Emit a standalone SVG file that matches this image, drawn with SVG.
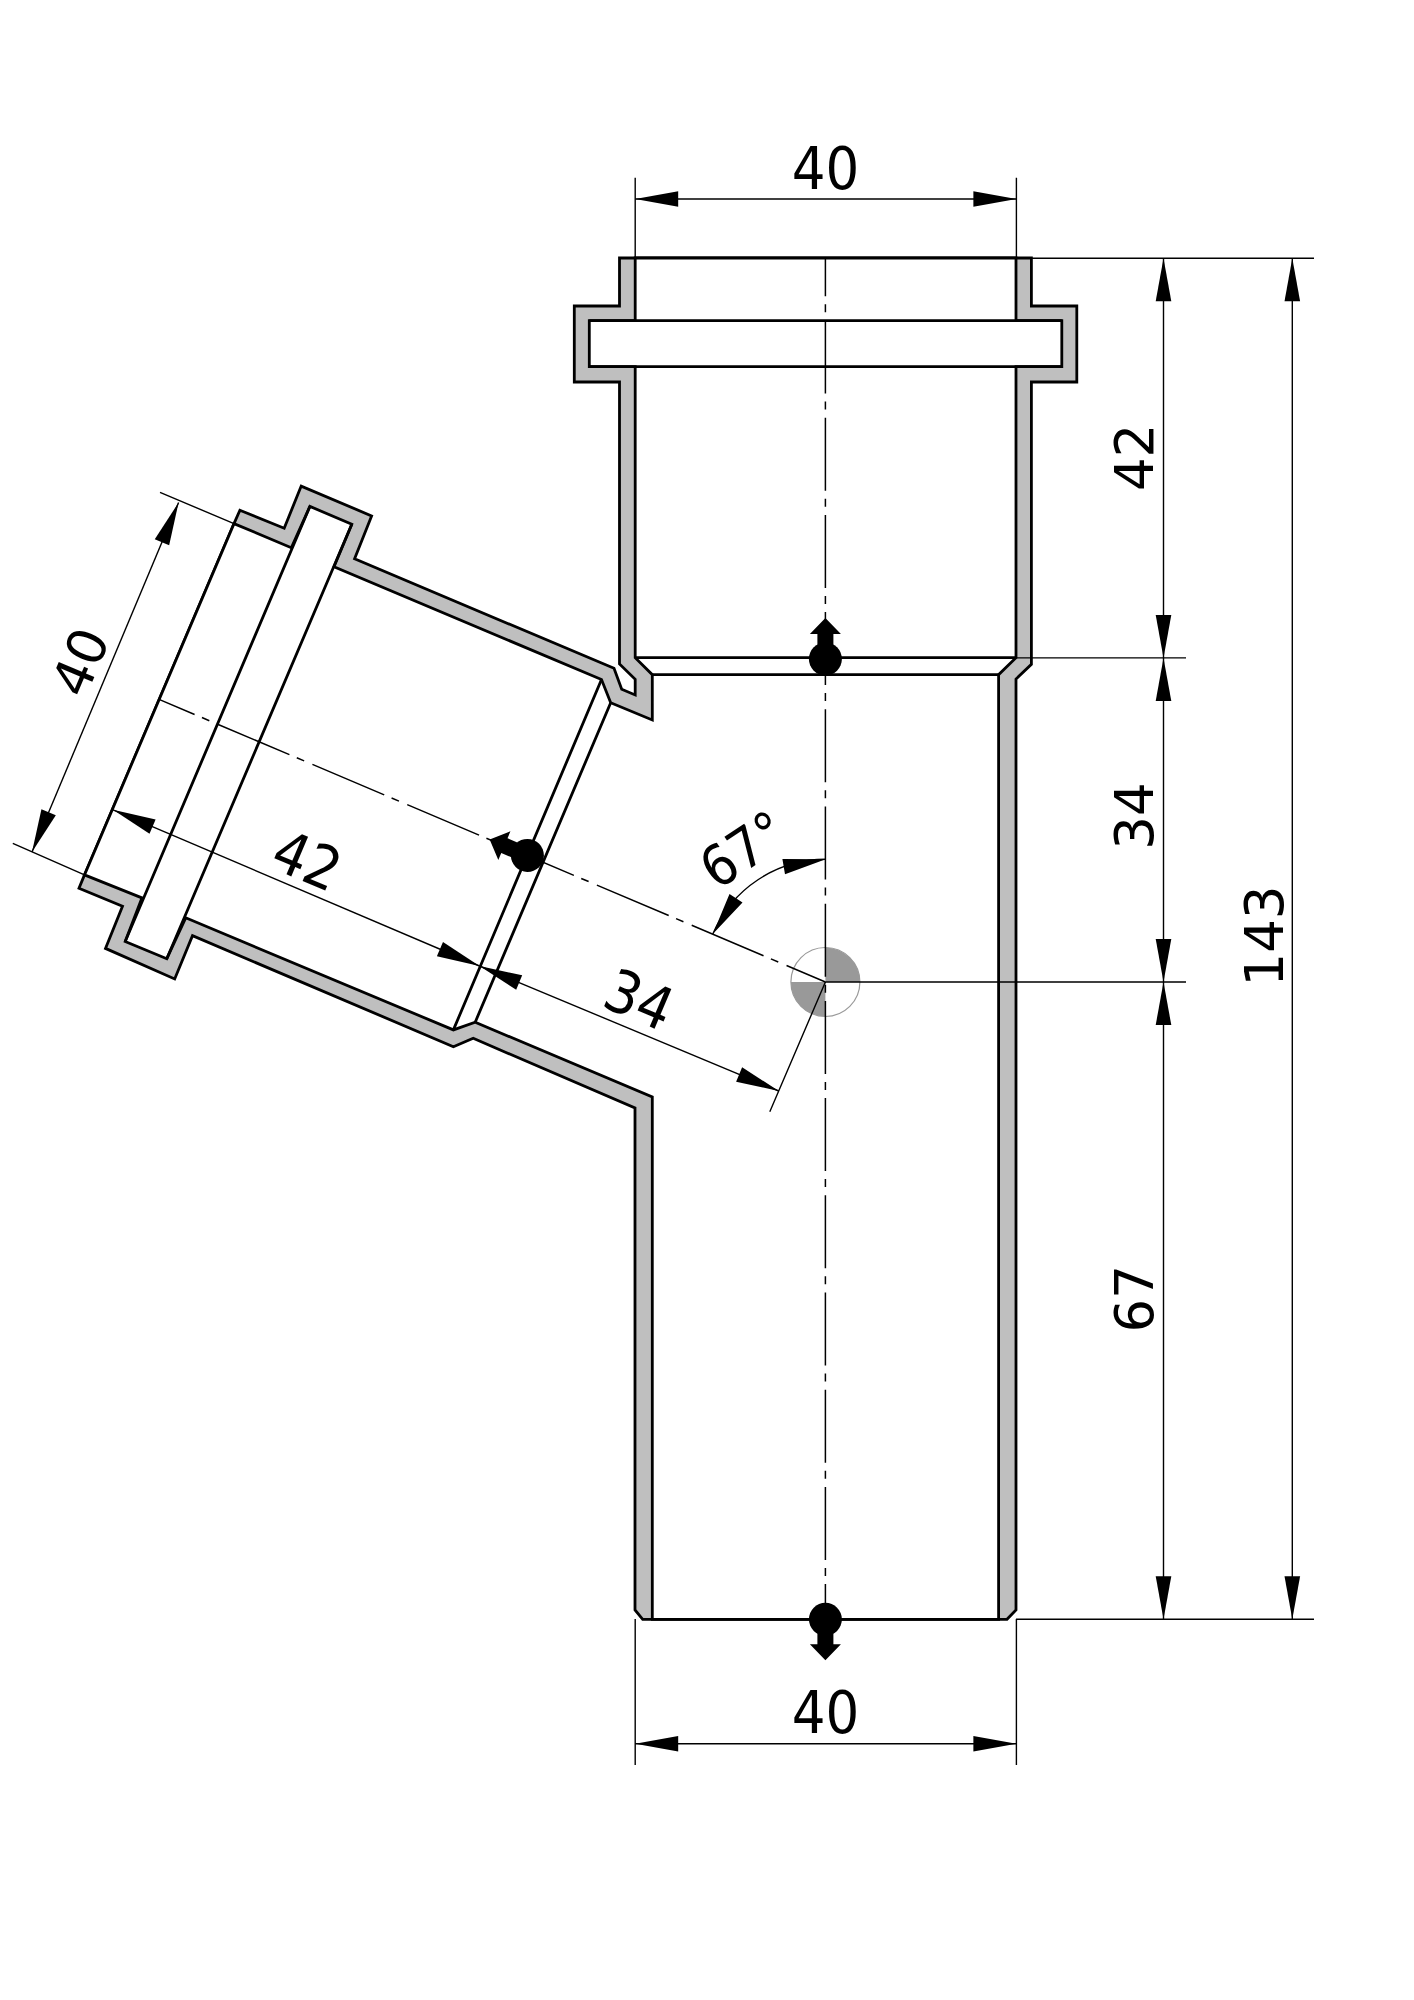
<svg xmlns="http://www.w3.org/2000/svg" width="1414" height="2000" viewBox="0 0 1414 2000">
<style>
.o{stroke:#000;stroke-width:2.8;stroke-linejoin:miter;stroke-miterlimit:8}
.e{fill:none;stroke:#000;stroke-width:2.8}
.d{fill:none;stroke:#000;stroke-width:1.4}
.c{fill:none;stroke:#000;stroke-width:1.5}
.a{fill:#000;stroke:none}
text{font-family:"DejaVu Sans",sans-serif;font-size:53px;fill:#000;text-anchor:middle}
text.h{font-family:"DejaVu Sans Condensed","DejaVu Sans",sans-serif;font-size:59px}
text.m{font-family:"DejaVu Sans Condensed","DejaVu Sans",sans-serif;font-size:56px}
</style>
<defs>
<marker id="ah" markerUnits="userSpaceOnUse" markerWidth="46" markerHeight="18" refX="44" refY="9" orient="auto-start-reverse" viewBox="0 0 46 18"><path d="M44,9 L1,1.2 L1,16.8 Z" fill="#000"/></marker>
<g id="flow"><circle cx="0" cy="0" r="16.5" fill="#000"/><path d="M-8,-8 V-25 H-15.5 L0,-41 L15.5,-25 H8 V-8 Z" fill="#000"/></g>
</defs>
<rect width="1414" height="2000" fill="#fff"/>
<g id="fitting">
<path class="o" fill="#bfbfbf" d="M619.5,258 V306 H574.3 V382 H619.5 V664 L635.2,679.3 V695 L621.7,689.3 L614,668.3 L354.6,558.8 L371.6,515.9 L301.2,486.1 L284.2,528.2 L239.9,510.2 L234,523.6 L84.5,874.9 L79,888.3 L122.5,906.3 L105.5,948.4 L174.7,979 L192.5,935.7 L453.4,1046.7 L473.2,1038.3 L635,1108 V1610 L642.7,1619.3 H1007 L1016,1610 V679 L1031.4,664.3 V382 H1076.8 V306 H1031.4 V258 Z"/>
<path class="o" fill="#fff" d="M635.2,258 H1016 V320.7 H1061.8 V366.7 H1016 V657.7 L998.6,674.7 V1619.3 H652.3 V1097 L475.2,1022.2 L453.4,1029.9 L185.7,917.8 L166.8,958.7 L125.2,941.5 L141.9,897.9 L84.5,874.9 L234,523.6 L291.3,547.7 L309.9,506.4 L351.8,524.3 L334,566.8 L601.5,679.5 L610.7,702.7 L652.3,720 V674.7 L635.2,657.7 V366.7 H589.3 V320.7 H635.2 Z"/>
<path class="e" d="M589.3,320.7 H1061.8 M589.3,366.7 H1061.8 M635.2,657.7 H1016 M652.3,674.7 H998.6 M309.9,506.4 L125.2,941.5 M351.8,524.3 L166.8,958.7 M601.5,679.5 L453.4,1029.9 M610.7,702.7 L475.2,1022.2"/>
</g>
<g id="center-symbol">
<circle cx="825.4" cy="982" r="34.5" fill="#fff" stroke="#999" stroke-width="1.2"/>
<path d="M825.4,982 V947.5 A34.5,34.5 0 0 1 859.9,982 Z M825.4,982 V1016.5 A34.5,34.5 0 0 1 790.9,982 Z" fill="#999"/>
</g>
<g id="centerlines">
<line class="c" x1="825.4" y1="258.3" x2="825.4" y2="1619" stroke-dasharray="73 8 8 8.2" stroke-dashoffset="35"/>
<line class="c" x1="159.6" y1="699.6" x2="825.4" y2="982" stroke-dasharray="78 8 8 9" stroke-dashoffset="40"/>
</g>
<g id="flow-markers">
<use href="#flow" transform="translate(825.4,659)"/>
<use href="#flow" transform="translate(825.4,1619.3) rotate(180)"/>
<use href="#flow" transform="translate(527.4,855.4) rotate(-67)"/>
</g>
<g id="connectors">
<path class="d" d="M635.2,177.7 V258 M1016.4,177.7 V258 M635.2,1619 V1765 M1016.4,1619 V1765 M1031,258.3 H1314 M1016,657.9 H1186 M825.4,982 H1186 M1016,1619.3 H1314 M234,523.6 L160,492.4 M84.5,874.9 L12.8,843.3 M825.4,982 L769.8,1111.7"/>
<line class="d" x1="635.2" y1="199" x2="1016.4" y2="199" marker-start="url(#ah)" marker-end="url(#ah)"/>
<line class="d" x1="635.2" y1="1743.7" x2="1016.4" y2="1743.7" marker-start="url(#ah)" marker-end="url(#ah)"/>
<line class="d" x1="1163.5" y1="258.3" x2="1163.5" y2="657.9" marker-start="url(#ah)" marker-end="url(#ah)"/>
<line class="d" x1="1163.5" y1="657.9" x2="1163.5" y2="982" marker-start="url(#ah)" marker-end="url(#ah)"/>
<line class="d" x1="1163.5" y1="982" x2="1163.5" y2="1619.3" marker-start="url(#ah)" marker-end="url(#ah)"/>
<line class="d" x1="1292.3" y1="258.3" x2="1292.3" y2="1619.3" marker-start="url(#ah)" marker-end="url(#ah)"/>
<line class="d" x1="178.6" y1="502.5" x2="32" y2="852" marker-start="url(#ah)" marker-end="url(#ah)"/>
<line class="d" x1="113" y1="809.8" x2="479.5" y2="966" marker-start="url(#ah)" marker-end="url(#ah)"/>
<line class="d" x1="479.5" y1="966" x2="778.8" y2="1091" marker-start="url(#ah)" marker-end="url(#ah)"/>
<path class="d" d="M825.7,859.3 A122.7,122.7 0 0 0 712.8,934.1"/>
<path class="a" d="M825.7,859.3 L785,874.3 L782.4,859.1 Z M712.8,934.1 L742.5,902.5 L729.5,894.1 Z"/>
</g>
<g id="labels">
<text class="h" x="825.4" y="188.8">40</text>
<text class="h" x="825.4" y="1733">40</text>
<text transform="translate(1153,457.4) rotate(-90)">42</text>
<text transform="translate(1153,816) rotate(-90)">34</text>
<text transform="translate(1153,1298.7) rotate(-90)">67</text>
<text transform="translate(1283,936) rotate(-90)">143</text>
<text transform="translate(97.6,669.2) rotate(-67)">40</text>
<text class="h" transform="translate(299,879.6) rotate(23)">42</text>
<text class="h" transform="translate(631.2,1018.8) rotate(23)">34</text>
<text class="m" transform="translate(754,866) rotate(-33.5)">67°</text>
</g>
</svg>
